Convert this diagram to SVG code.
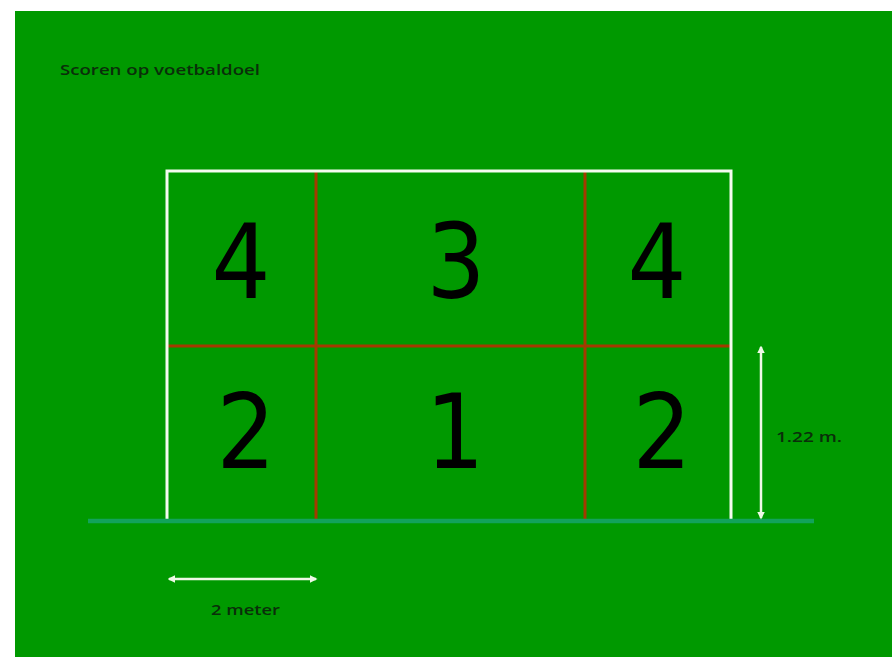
<svg xmlns="http://www.w3.org/2000/svg" width="892" height="657" viewBox="0 0 892 657">
  <style>
    .lbl { font-family: "Open Sans", "Liberation Sans", Arial, sans-serif; font-weight: 600; fill: #0a2e0a; }
    .num { font-family: "DejaVu Sans", "Liberation Sans", Arial, sans-serif; font-size: 103px; fill: #000; text-anchor: middle; }
    .post { stroke: #f4fbef; stroke-width: 3; fill: none; }
    .zone { stroke: #a33a00; stroke-width: 3; fill: none; }
    .dim { stroke: #eef9e6; stroke-width: 2.5; fill: none; marker-start: url(#ah); marker-end: url(#ah); }
  </style>
  <defs>
    <marker id="ah" viewBox="0 0 10 10" refX="8" refY="5" markerWidth="3" markerHeight="3" orient="auto-start-reverse" markerUnits="strokeWidth">
      <path d="M0,0 L10,5 L0,10 Z" fill="#eef9e6"/>
    </marker>
  </defs>
  <rect x="0" y="0" width="892" height="657" fill="#ffffff"/>
  <rect x="15" y="11" width="877" height="646" fill="#009900"/>

  <text class="lbl" x="60" y="75" font-size="14" textLength="200" lengthAdjust="spacingAndGlyphs">Scoren op voetbaldoel</text>

  <g id="goal">
    <line class="zone" x1="167" y1="346" x2="731" y2="346"/>
    <line class="zone" x1="316" y1="171" x2="316" y2="519"/>
    <line class="zone" x1="585" y1="171" x2="585" y2="519"/>
    <path class="post" d="M167,519 L167,171 L731,171 L731,519"/>
  </g>

  <g id="zone-4-left"><text class="num" transform="translate(241,298) scale(0.9,1)">4</text></g>
  <g id="zone-3"><text class="num" transform="translate(456,298) scale(0.9,1)">3</text></g>
  <g id="zone-4-right"><text class="num" transform="translate(657,298) scale(0.9,1)">4</text></g>
  <g id="zone-2-left"><text class="num" transform="translate(246,468) scale(0.9,1)">2</text></g>
  <g id="zone-1"><text class="num" transform="translate(455,468) scale(0.9,1)">1</text></g>
  <g id="zone-2-right"><text class="num" transform="translate(662,468) scale(0.9,1)">2</text></g>

  <g id="ground">
    <line x1="88" y1="521" x2="814" y2="521" stroke="#12a35a" stroke-width="4.5"/>
  </g>

  <g id="connectors">
    <line class="dim" x1="761" y1="347" x2="761" y2="518"/>
    <line class="dim" x1="169" y1="579" x2="316" y2="579"/>
  </g>

  <text class="lbl" x="776" y="442" font-size="15" textLength="66" lengthAdjust="spacingAndGlyphs">1.22 m.</text>
  <text class="lbl" x="211" y="615" font-size="15" textLength="69" lengthAdjust="spacingAndGlyphs">2 meter</text>
</svg>
